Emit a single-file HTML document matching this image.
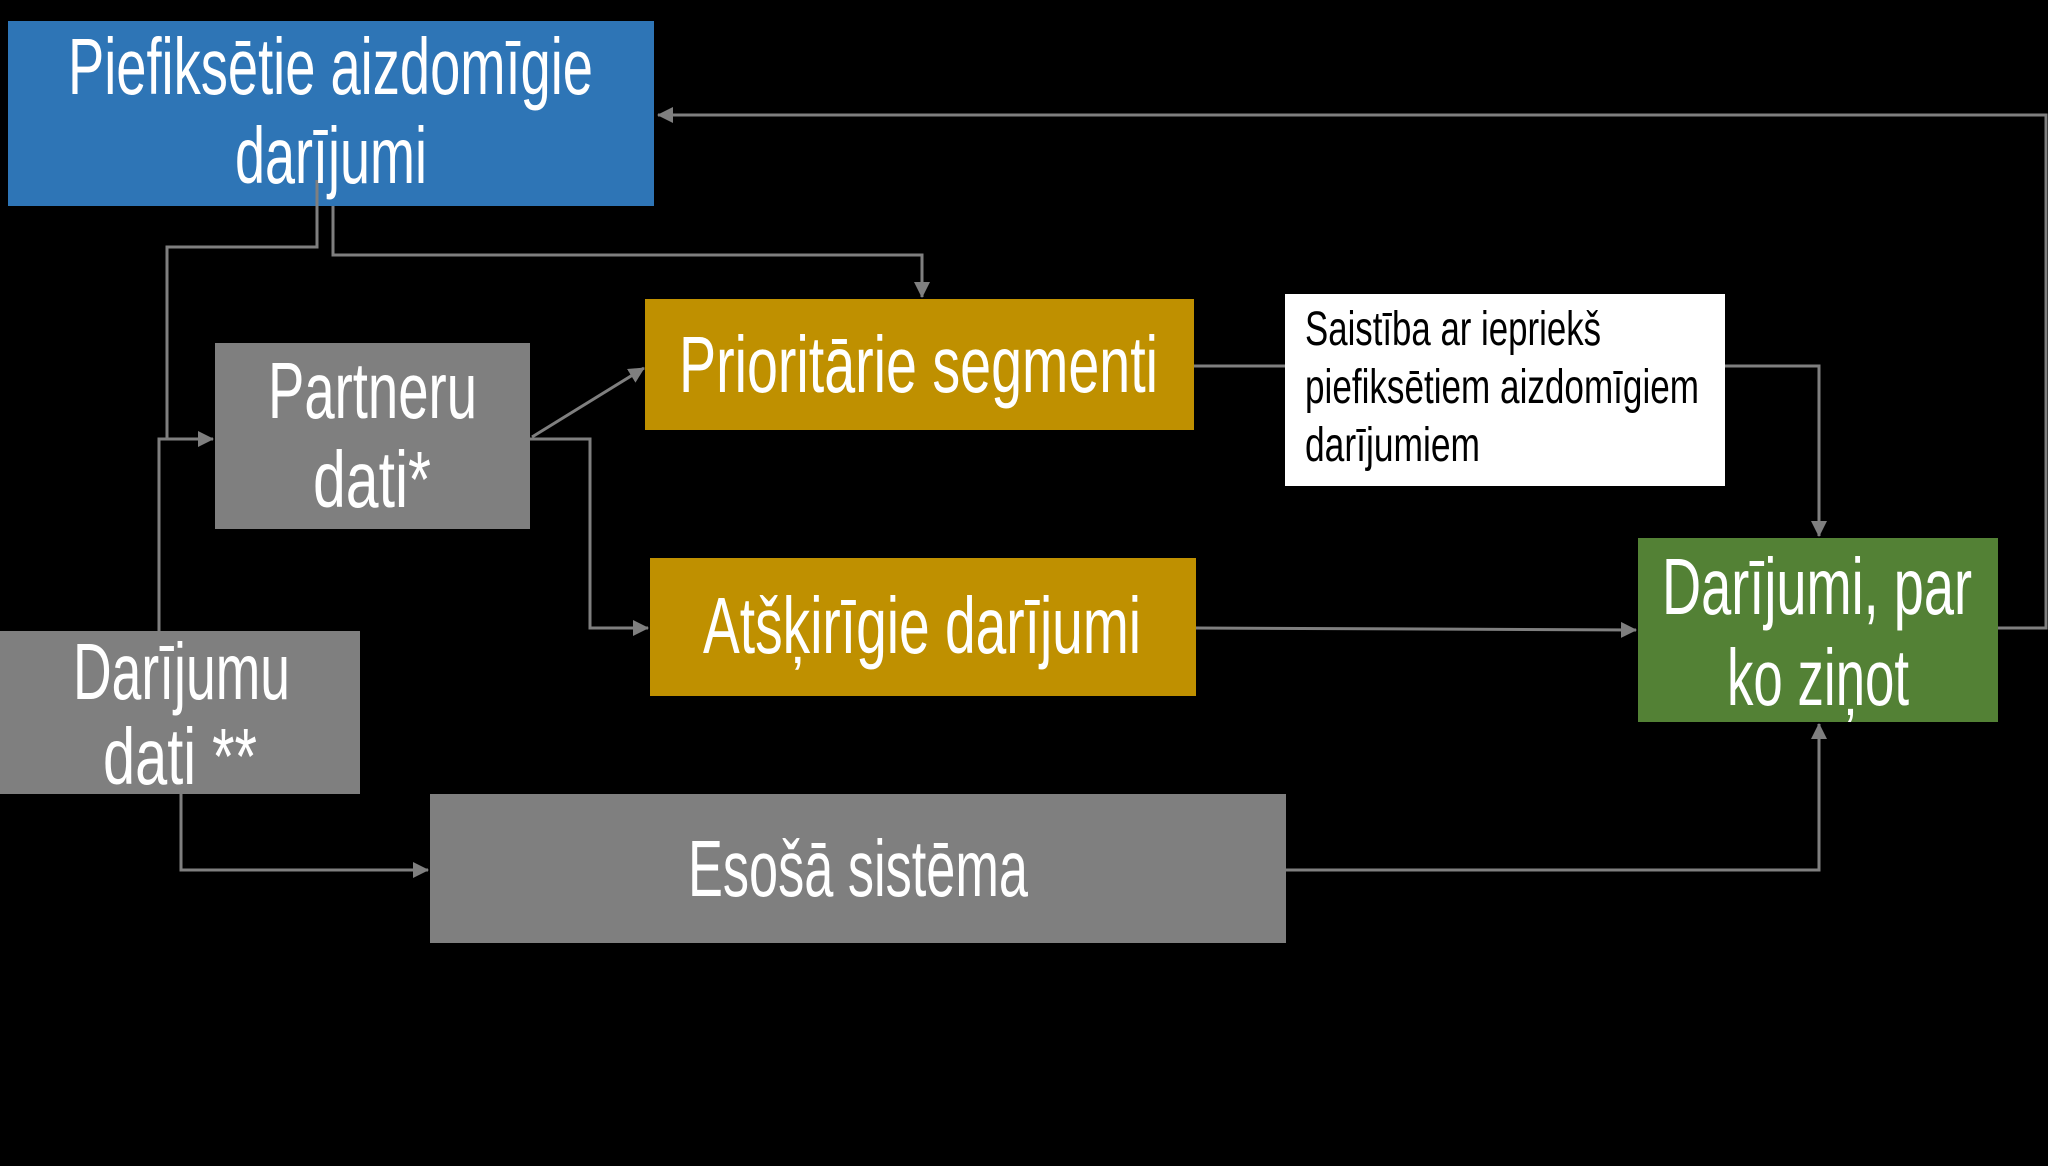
<!DOCTYPE html>
<html><head><meta charset="utf-8"><style>
html,body{margin:0;padding:0;background:#000;}
svg{display:block;}
text{font-family:"Liberation Sans Narrow","Liberation Sans",sans-serif;fill:#fff;}
</style></head><body>
<svg width="2048" height="1166" viewBox="0 0 2048 1166" xmlns="http://www.w3.org/2000/svg">
<defs>
<marker id="a" markerWidth="8" markerHeight="8" refX="7" refY="4" orient="auto" markerUnits="userSpaceOnUse" viewBox="0 0 8 8">
<path d="M0,0 L8,4 L0,8 Z" fill="#7f7f7f"/></marker>
<marker id="b" markerWidth="16" markerHeight="16" refX="15" refY="8" orient="auto" markerUnits="userSpaceOnUse" viewBox="0 0 16 16">
<path d="M0,0 L16,8 L0,16 Z" fill="#7f7f7f"/></marker>
</defs>
<rect width="2048" height="1166" fill="#000"/>
<!-- boxes -->
<rect x="8" y="21" width="646" height="185" fill="#2e75b6"/>
<rect x="215" y="343" width="315" height="186" fill="#7f7f7f"/>
<rect x="645" y="299" width="549" height="131" fill="#bf9000"/>
<rect x="650" y="558" width="546" height="138" fill="#bf9000"/>
<rect x="1285" y="294" width="440" height="192" fill="#fff"/>
<rect x="1638" y="538" width="360" height="184" fill="#538135"/>
<rect x="0" y="631" width="360" height="163" fill="#7f7f7f"/>
<rect x="430" y="794" width="856" height="149" fill="#7f7f7f"/>
<!-- connectors -->
<g fill="none" stroke="#7f7f7f" stroke-width="3">
<polyline points="1998,628 2046,628 2046,115 658,115" marker-end="url(#b)"/>
<polyline points="317,180 317,247 167,247 167,439 213,439" marker-end="url(#b)"/>
<polyline points="159,631 159,439 175,439"/>
<polyline points="333,206 333,255 922,255 922,297" marker-end="url(#b)"/>
<line x1="532" y1="437" x2="644" y2="368" marker-end="url(#b)"/>
<polyline points="530,439 590,439 590,628 648,628" marker-end="url(#b)"/>
<line x1="1194" y1="366" x2="1285" y2="366"/>
<polyline points="1725,366 1819,366 1819,536" marker-end="url(#b)"/>
<line x1="1196" y1="628" x2="1636" y2="630" marker-end="url(#b)"/>
<polyline points="181,794 181,870 428,870" marker-end="url(#b)"/>
<polyline points="1286,870 1819,870 1819,724" marker-end="url(#b)"/>
</g>
<!-- labels -->
<g font-size="80">
<text x="68" y="94" textLength="525" lengthAdjust="spacingAndGlyphs">Piefiksētie aizdomīgie</text>
<text x="235" y="183" textLength="192" lengthAdjust="spacingAndGlyphs">darījumi</text>
<text x="268" y="418" textLength="209" lengthAdjust="spacingAndGlyphs">Partneru</text>
<text x="313" y="507" textLength="118" lengthAdjust="spacingAndGlyphs">dati*</text>
<text x="679" y="392" textLength="479" lengthAdjust="spacingAndGlyphs">Prioritārie segmenti</text>
<text x="703" y="653" textLength="438" lengthAdjust="spacingAndGlyphs">Atšķirīgie darījumi</text>
<text x="1662" y="614" textLength="310" lengthAdjust="spacingAndGlyphs">Darījumi, par</text>
<text x="1727" y="705" textLength="182" lengthAdjust="spacingAndGlyphs">ko ziņot</text>
<text x="73" y="699" textLength="217" lengthAdjust="spacingAndGlyphs">Darījumu</text>
<text x="103" y="784" textLength="154" lengthAdjust="spacingAndGlyphs">dati **</text>
<text x="688" y="896" textLength="340" lengthAdjust="spacingAndGlyphs">Esošā sistēma</text>
</g>
<g font-size="48" style="fill:#000">
<text x="1305" y="345" textLength="296" lengthAdjust="spacingAndGlyphs" style="fill:#000">Saistība ar iepriekš</text>
<text x="1305" y="403" textLength="394" lengthAdjust="spacingAndGlyphs" style="fill:#000">piefiksētiem aizdomīgiem</text>
<text x="1305" y="461" textLength="175" lengthAdjust="spacingAndGlyphs" style="fill:#000">darījumiem</text>
</g>
</svg>
</body></html>
